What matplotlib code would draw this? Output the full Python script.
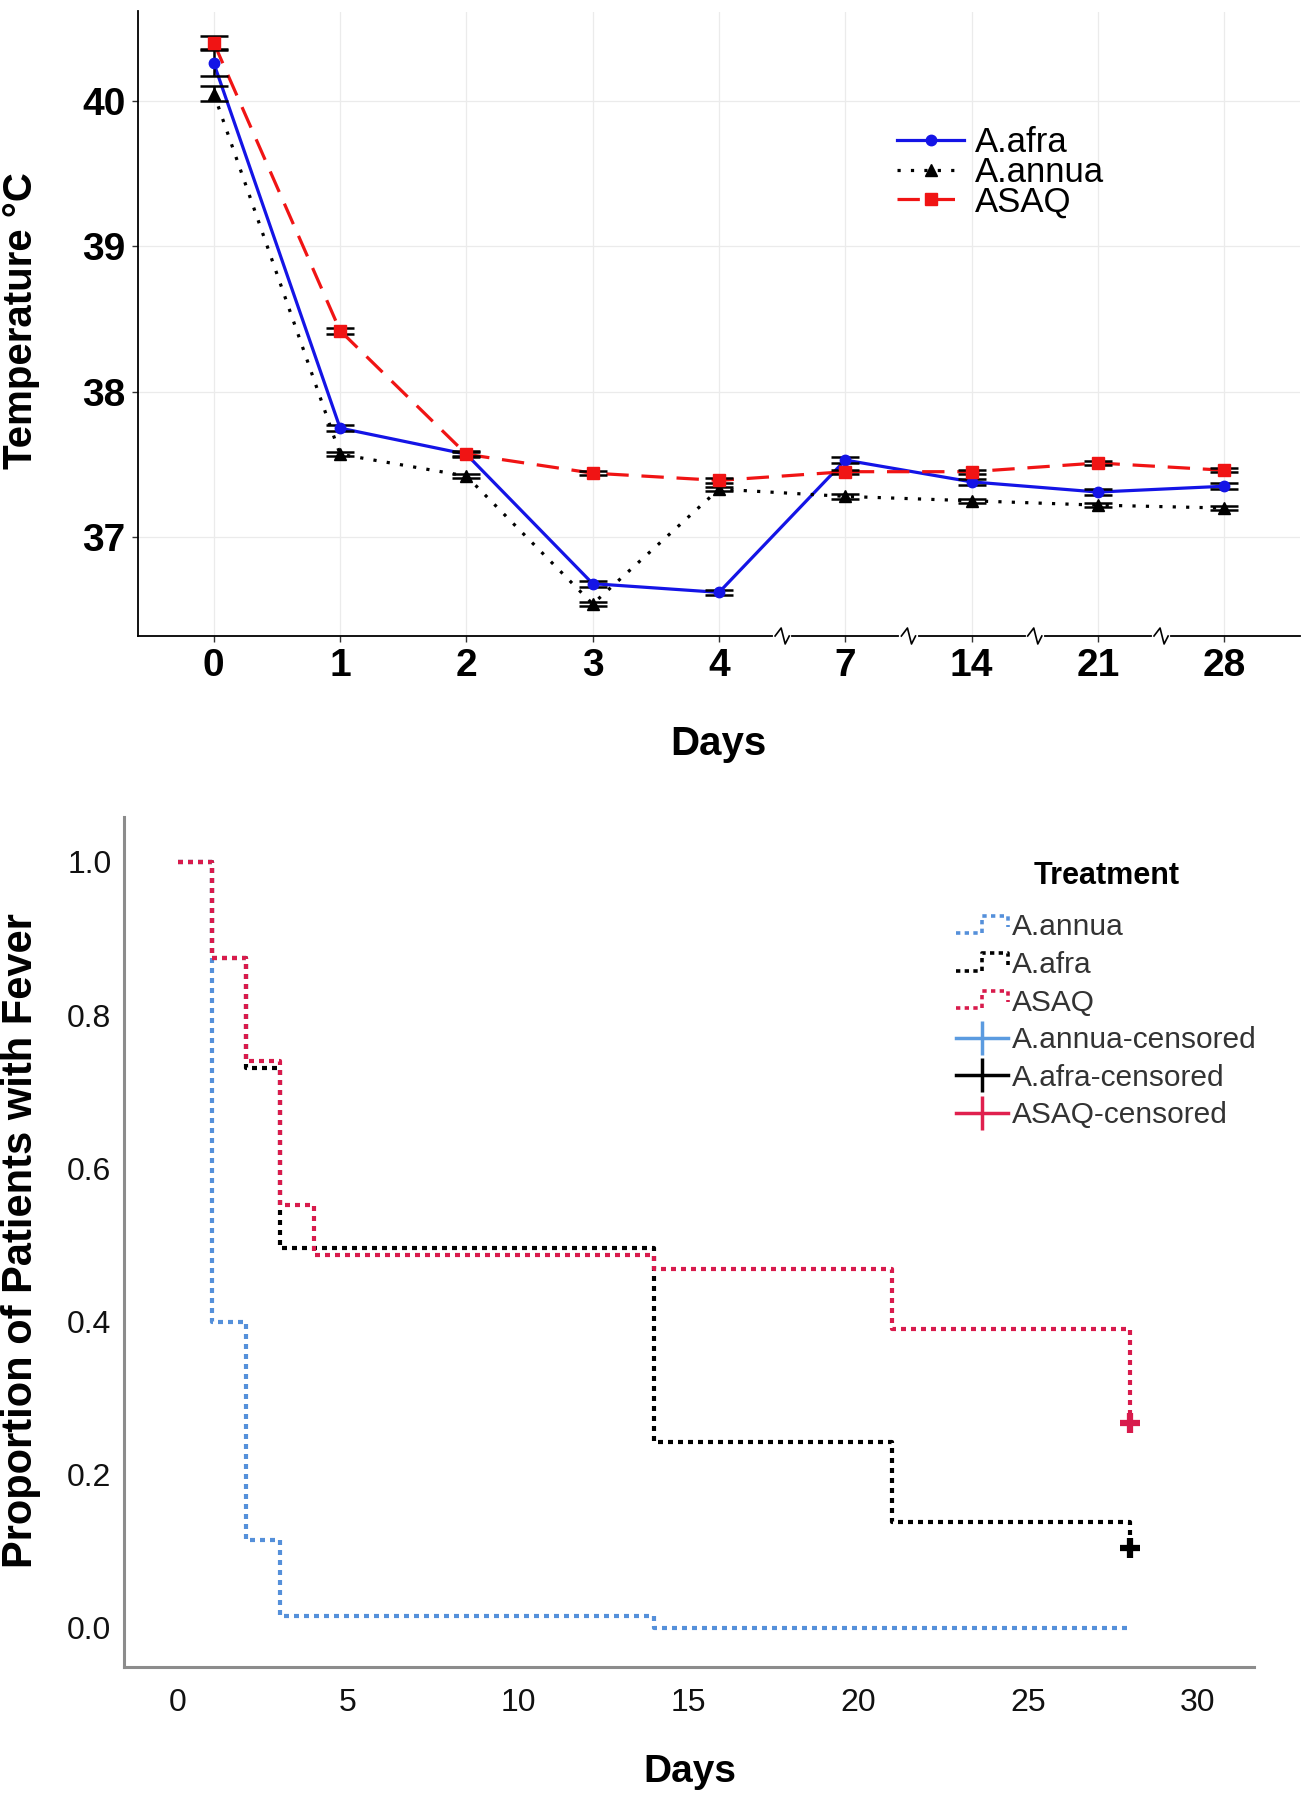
import matplotlib
matplotlib.use('Agg')
import matplotlib.pyplot as plt
import matplotlib.transforms as mtransforms
from matplotlib.lines import Line2D
from matplotlib.legend_handler import HandlerBase

plt.rcParams['font.family'] = ['Liberation Sans', 'DejaVu Sans']

# ---------------- data: top panel (mean temperature) ----------------
day_labels = ['0', '1', '2', '3', '4', '7', '14', '21', '28']
afra_temp = [40.26, 37.75, 37.57, 36.68, 36.62, 37.53, 37.38, 37.31, 37.35]
afra_se = [0.09, 0.02, 0.02, 0.02, 0.015, 0.02, 0.02, 0.02, 0.02]
annua_temp = [40.05, 37.57, 37.42, 36.54, 37.33, 37.28, 37.25, 37.22, 37.20]
annua_se = [0.05, 0.015, 0.015, 0.015, 0.015, 0.015, 0.015, 0.015, 0.015]
asaq_temp = [40.40, 38.42, 37.57, 37.44, 37.39, 37.45, 37.45, 37.51, 37.46]
asaq_se = [0.045, 0.02, 0.015, 0.015, 0.015, 0.015, 0.015, 0.015, 0.015]

# ---------------- data: bottom panel (Kaplan-Meier) ----------------
km_annua_t = [0, 1, 2, 3, 14, 28]
km_annua_s = [1.0, 0.399, 0.115, 0.016, 0.0, 0.0]
km_afra_t = [0, 1, 2, 3, 14, 21, 28]
km_afra_s = [1.0, 0.875, 0.731, 0.496, 0.243, 0.138, 0.105]
km_asaq_t = [0, 1, 2, 3, 4, 14, 21, 28]
km_asaq_s = [1.0, 0.875, 0.74, 0.552, 0.487, 0.468, 0.390, 0.268]
cens_afra = (28, 0.105)
cens_asaq = (28, 0.268)

W, H = 1309, 1800
fig = plt.figure(figsize=(W / 100, H / 100), dpi=100)


def fx(px):
    return px / W


def fy(py):
    return 1 - py / H


# ================= TOP PANEL =================
ax1 = fig.add_axes([fx(138), fy(636), fx(1300) - fx(138), fy(11.5) - fy(636)])
x = list(range(len(day_labels)))

ax1.grid(True, color='#EBEBEB', lw=0.9, zorder=0)
ax1.set_axisbelow(True)

BLUE = '#1414E6'
RED = '#F01414'
series = [
    ('A.afra', afra_temp, afra_se, BLUE, '-', 'o', 7.5),
    ('A.annua', annua_temp, annua_se, 'black', (0, (1, 3.2)), '^', 9),
    ('ASAQ', asaq_temp, asaq_se, RED, (0, (7, 4)), 's', 8),
]
handles_top = []
for name, yv, se, col, ls, mk, ms in series:
    ax1.plot(x, yv, color=col, lw=2.3, ls=ls, zorder=2)
    ax1.errorbar(x, yv, yerr=se, fmt='none', ecolor='black', elinewidth=1.8,
                 capsize=10, capthick=1.8, zorder=3)
    ax1.plot(x, yv, ls='none', marker=mk, ms=ms, color=col, zorder=4)
    handles_top.append(Line2D([], [], color=col, lw=2.3, ls=ls, marker=mk,
                              ms=ms, label=name))

ax1.set_xlim(-0.6, 8.6)
ax1.set_ylim(36.32, 40.615)
ax1.set_xticks(x)
ax1.set_xticklabels(day_labels)
ax1.set_yticks([37, 38, 39, 40])
for s in ['top', 'right']:
    ax1.spines[s].set_visible(False)
for s in ['left', 'bottom']:
    ax1.spines[s].set_color('black')
    ax1.spines[s].set_linewidth(1.3)
ax1.tick_params(axis='both', length=4, width=1, color='#333333',
                labelsize=28, pad=5)
for lab in ax1.get_xticklabels() + ax1.get_yticklabels():
    lab.set_fontweight('bold')

# axis break marks on the x axis between non-consecutive days
bt = mtransforms.blended_transform_factory(ax1.transData, ax1.transAxes)
for i in [4, 5, 6, 7]:
    c = i + 0.5
    ax1.plot([c - 0.056, c + 0.056], [0, 0], color='white', lw=3,
             transform=bt, clip_on=False, zorder=5)
    ax1.plot([c - 0.056, c - 0.008, c + 0.024, c + 0.056],
             [0, 0.0128, -0.0128, 0], color='black', lw=1.2,
             transform=bt, clip_on=False, zorder=6)

leg1 = ax1.legend(handles=handles_top, loc='upper left',
                  bbox_to_anchor=(0.653, 0.816), frameon=False,
                  fontsize=25, handlelength=1.95, handletextpad=0.3,
                  labelspacing=-0.1, borderpad=0, borderaxespad=0)

fig.text(fx(21), fy(321), 'Temperature °C', rotation=90, ha='center',
         va='center', fontsize=29, fontweight='bold')
fig.text(fx(718), fy(744), 'Days', ha='center', va='center', fontsize=29,
         fontweight='bold')

# ================= BOTTOM PANEL =================
ax2 = fig.add_axes([fx(124), fy(1667), fx(1254) - fx(124), fy(817) - fy(1667)])
KBLUE = '#5590DA'
KRED = '#D81B4C'
dots = (0, (1.2, 1.2))
ax2.plot(km_annua_t, km_annua_s, drawstyle='steps-post', color=KBLUE,
         lw=3.0, ls=dots, zorder=2)
ax2.plot(km_afra_t, km_afra_s, drawstyle='steps-post', color='black',
         lw=3.0, ls=dots, zorder=3)
ax2.plot(km_asaq_t, km_asaq_s, drawstyle='steps-post', color=KRED,
         lw=3.0, ls=dots, zorder=4)
ax2.plot([cens_afra[0]], [cens_afra[1]], marker='+', ms=15, mew=4.5,
         color='black', ls='none', zorder=5)
ax2.plot([cens_asaq[0]], [cens_asaq[1]], marker='+', ms=15, mew=4.5,
         color=KRED, ls='none', zorder=5)

ax2.set_xlim(-1.59, 31.65)
ax2.set_ylim(-0.051, 1.0587)
ax2.set_xticks([0, 5, 10, 15, 20, 25, 30])
ax2.set_yticks([0.0, 0.2, 0.4, 0.6, 0.8, 1.0])
ax2.set_yticklabels(['0.0', '0.2', '0.4', '0.6', '0.8', '1.0'])
for s in ['top', 'right']:
    ax2.spines[s].set_visible(False)
for s in ['left', 'bottom']:
    ax2.spines[s].set_color('#8C8C8C')
    ax2.spines[s].set_linewidth(2.2)
ax2.tick_params(axis='both', length=0, labelsize=23, labelcolor='#111111')
ax2.tick_params(axis='x', pad=15)
ax2.tick_params(axis='y', pad=9)


class StepLine(Line2D):
    pass


class StepHandler(HandlerBase):
    def create_artists(self, legend, orig_handle, xdescent, ydescent, width,
                       height, fontsize, trans):
        x0, y0 = -xdescent, -ydescent
        xs = [x0, x0 + 0.5 * width, x0 + 0.5 * width, x0 + width, x0 + width]
        ys = [y0 + 0.1 * height, y0 + 0.1 * height, y0 + 0.95 * height,
              y0 + 0.95 * height, y0 + 0.4 * height]
        ln = Line2D(xs, ys, color=orig_handle.get_color(),
                    lw=orig_handle.get_linewidth(), ls=(0, (1.2, 1.2)))
        ln.set_transform(trans)
        return [ln]


h_annua = StepLine([], [], color=KBLUE, lw=2.6, label='A.annua')
h_afra = StepLine([], [], color='black', lw=2.6, label='A.afra')
h_asaq = StepLine([], [], color=KRED, lw=2.6, label='ASAQ')
h_c1 = Line2D([], [], color='#5B9BE0', lw=2.5, marker='|', ms=24, mew=2.5,
              label='A.annua-censored')
h_c2 = Line2D([], [], color='black', lw=2.5, marker='|', ms=24, mew=2.5,
              label='A.afra-censored')
h_c3 = Line2D([], [], color='#E0204E', lw=2.5, marker='|', ms=24, mew=2.5,
              label='ASAQ-censored')
leg2 = ax2.legend(handles=[h_annua, h_afra, h_asaq, h_c1, h_c2, h_c3],
                  handler_map={StepLine: StepHandler()},
                  loc='upper left', bbox_to_anchor=(0.736, 0.948),
                  frameon=False, fontsize=21.5, handlelength=1.75,
                  handletextpad=0.15, labelspacing=0.32, borderpad=0,
                  borderaxespad=0, title='Treatment',
                  title_fontproperties={'weight': 'bold', 'size': 22})
for t in leg2.get_texts():
    t.set_color('#333333')
leg2._legend_box.sep = 16

fig.text(fx(21), fy(1241), 'Proportion of Patients with Fever', rotation=90,
         ha='center', va='center', fontsize=30, fontweight='bold')
fig.text(fx(690), fy(1772), 'Days', ha='center', va='center', fontsize=28,
         fontweight='bold')

fig.savefig('out.png', dpi=100)
